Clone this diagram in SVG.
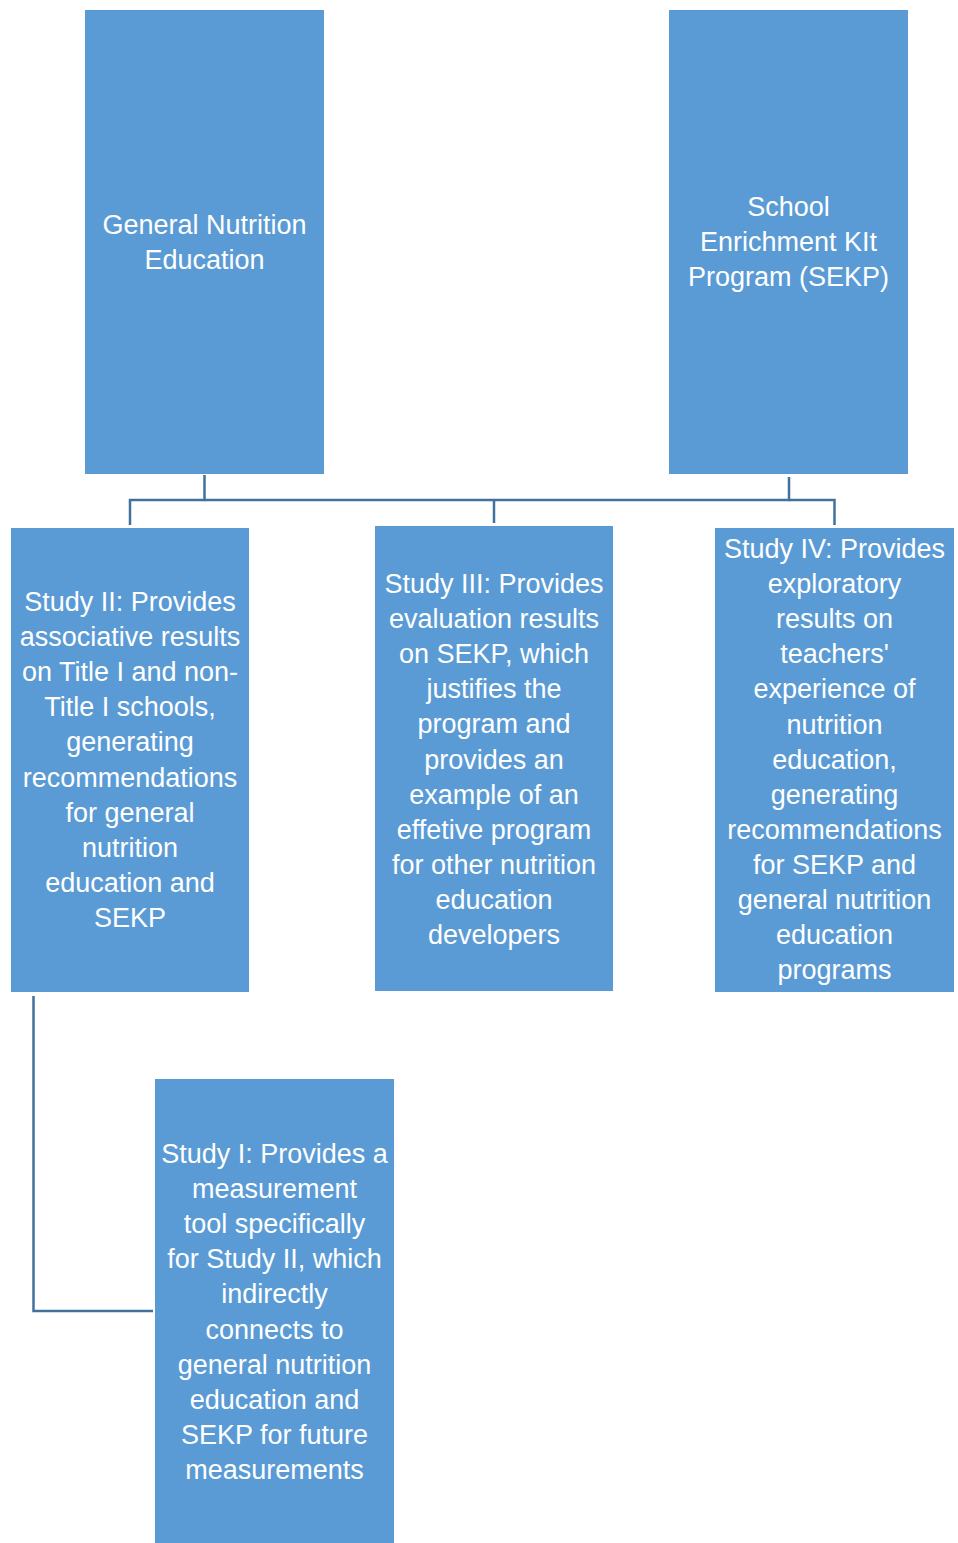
<svg xmlns="http://www.w3.org/2000/svg" width="958" height="1543" viewBox="0 0 958 1543">
<style>
.box{fill:#5B9BD5;}
.lbl{font-family:"Liberation Sans",Arial,sans-serif;font-size:27px;fill:#FFFFFF;text-anchor:middle;}
.conn{fill:none;stroke:#41719C;stroke-width:2.5;}
</style>
<rect width="958" height="1543" fill="#FFFFFF"/>
<g id="connectors">
<path class="conn" d="M204.5 475 V500 H130 V525"/>
<path class="conn" d="M204.5 500 H789 V477"/>
<path class="conn" d="M494 500 V523"/>
<path class="conn" d="M789 500 H834.5 V525"/>
<path class="conn" d="M33.5 996 V1311 H153"/>
</g>
<g id="gne">
<rect class="box" x="85" y="10" width="239" height="464"/>
<text class="lbl" x="204.5" y="234">General Nutrition<tspan x="204.5" dy="35.1">Education</tspan></text>
</g>
<g id="sekp">
<rect class="box" x="669" y="10" width="239" height="464"/>
<text class="lbl" x="788.5" y="216">School<tspan x="788.5" dy="35.1">Enrichment KIt</tspan><tspan x="788.5" dy="35.1">Program (SEKP)</tspan></text>
</g>
<g id="study2">
<rect class="box" x="11" y="528" width="238" height="464"/>
<text class="lbl" x="130" y="611">Study II: Provides<tspan x="130" dy="35.1">associative results</tspan><tspan x="130" dy="35.1">on Title I and non-</tspan><tspan x="130" dy="35.1">Title I schools,</tspan><tspan x="130" dy="35.1">generating</tspan><tspan x="130" dy="35.1">recommendations</tspan><tspan x="130" dy="35.1">for general</tspan><tspan x="130" dy="35.1">nutrition</tspan><tspan x="130" dy="35.1">education and</tspan><tspan x="130" dy="35.1">SEKP</tspan></text>
</g>
<g id="study3">
<rect class="box" x="375" y="526" width="238" height="465"/>
<text class="lbl" x="494" y="593">Study III: Provides<tspan x="494" dy="35.1">evaluation results</tspan><tspan x="494" dy="35.1">on SEKP, which</tspan><tspan x="494" dy="35.1">justifies the</tspan><tspan x="494" dy="35.1">program and</tspan><tspan x="494" dy="35.1">provides an</tspan><tspan x="494" dy="35.1">example of an</tspan><tspan x="494" dy="35.1">effetive program</tspan><tspan x="494" dy="35.1">for other nutrition</tspan><tspan x="494" dy="35.1">education</tspan><tspan x="494" dy="35.1">developers</tspan></text>
</g>
<g id="study4">
<rect class="box" x="715" y="528" width="239" height="464"/>
<text class="lbl" x="834.5" y="558">Study IV: Provides<tspan x="834.5" dy="35.1">exploratory</tspan><tspan x="834.5" dy="35.1">results on</tspan><tspan x="834.5" dy="35.1">teachers'</tspan><tspan x="834.5" dy="35.1">experience of</tspan><tspan x="834.5" dy="35.1">nutrition</tspan><tspan x="834.5" dy="35.1">education,</tspan><tspan x="834.5" dy="35.1">generating</tspan><tspan x="834.5" dy="35.1">recommendations</tspan><tspan x="834.5" dy="35.1">for SEKP and</tspan><tspan x="834.5" dy="35.1">general nutrition</tspan><tspan x="834.5" dy="35.1">education</tspan><tspan x="834.5" dy="35.1">programs</tspan></text>
</g>
<g id="study1">
<rect class="box" x="155" y="1079" width="239" height="464"/>
<text class="lbl" x="274.5" y="1163">Study I: Provides a<tspan x="274.5" dy="35.1">measurement</tspan><tspan x="274.5" dy="35.1">tool specifically</tspan><tspan x="274.5" dy="35.1">for Study II, which</tspan><tspan x="274.5" dy="35.1">indirectly</tspan><tspan x="274.5" dy="35.1">connects to</tspan><tspan x="274.5" dy="35.1">general nutrition</tspan><tspan x="274.5" dy="35.1">education and</tspan><tspan x="274.5" dy="35.1">SEKP for future</tspan><tspan x="274.5" dy="35.1">measurements</tspan></text>
</g>
</svg>
